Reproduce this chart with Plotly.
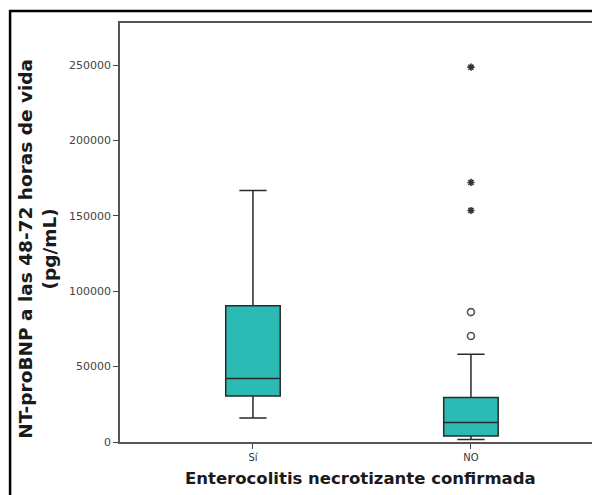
import plotly.graph_objects as go

categories = ["Sí", "NO"]
q1 = [30600, 4000]
median = [42200, 12900]
q3 = [90400, 29500]
lower_whisker = [16000, 1600]
upper_whisker = [166900, 58300]

outlier_cat = ["NO", "NO"]
outlier_vals = [86200, 70300]
extreme_cat = ["NO", "NO", "NO"]
extreme_vals = [248700, 172200, 153600]

y_tickvals = [0, 50000, 100000, 150000, 200000, 250000]
y_ticktext = ["0", "50000", "100000", "150000", "200000", "250000"]

y_title = "NT-proBNP a las 48-72 horas de vida<br>(pg/mL)"
x_title = "Enterocolitis necrotizante confirmada"

title_font = "DejaVu Sans, sans-serif"

fig = go.Figure()
fig.add_trace(go.Box(
    x=categories, q1=q1, median=median, q3=q3,
    lowerfence=lower_whisker, upperfence=upper_whisker,
    fillcolor="#2BBAB4", line=dict(color="#2a2a2a", width=1.5),
    width=0.25, whiskerwidth=0.5, boxpoints=False, showlegend=False,
    hoverinfo="y",
))
fig.add_trace(go.Scatter(
    x=outlier_cat, y=outlier_vals, mode="markers",
    marker=dict(symbol="circle-open", size=7, color="#555555", line=dict(width=1.6)),
    showlegend=False,
))
fig.add_trace(go.Scatter(
    x=extreme_cat, y=extreme_vals, mode="markers",
    marker=dict(symbol="asterisk-open", size=6, color="#333333", line=dict(width=1.6, color="#333333")),
    showlegend=False,
))

fig.update_layout(
    width=592, height=487,
    margin=dict(l=112, r=0, t=15, b=53),
    paper_bgcolor="white", plot_bgcolor="white",
    font=dict(family="DejaVu Sans, sans-serif", color="#222222"),
    xaxis=dict(
        type="category", range=[-0.61, 1.592],
        showline=True, linecolor="#555555", linewidth=1.5, mirror=True,
        ticks="outside", ticklen=5, tickcolor="#444444",
        tickfont=dict(size=10, color="#333333"),
        showgrid=False, zeroline=False,
    ),
    yaxis=dict(
        range=[0, 278000],
        tickvals=y_tickvals, ticktext=y_ticktext,
        showline=True, linecolor="#555555", linewidth=1.5,
        ticks="outside", ticklen=5, tickcolor="#444444",
        tickfont=dict(size=11, color="#444444"),
        showgrid=False, zeroline=False,
    ),
    annotations=[
        dict(text="<b>" + y_title + "</b>", xref="paper", yref="paper",
             x=-0.171, y=0.461, xanchor="center", yanchor="middle",
             textangle=-90, showarrow=False,
             font=dict(family=title_font, size=18.5, color="#1a1a1a")),
        dict(text="<b>" + x_title + "</b>", xref="paper", yref="paper",
             x=0.502, y=-0.086, xanchor="center", yanchor="middle",
             showarrow=False,
             font=dict(family=title_font, size=16.5, color="#1a1a1a")),
    ],
    shapes=[dict(type="rect", xref="paper", yref="paper",
                 x0=-0.229, x1=1.05, y0=-0.25, y1=1.0286,
                 line=dict(color="black", width=2.5), layer="above")],
)

fig.write_html("out.html")
